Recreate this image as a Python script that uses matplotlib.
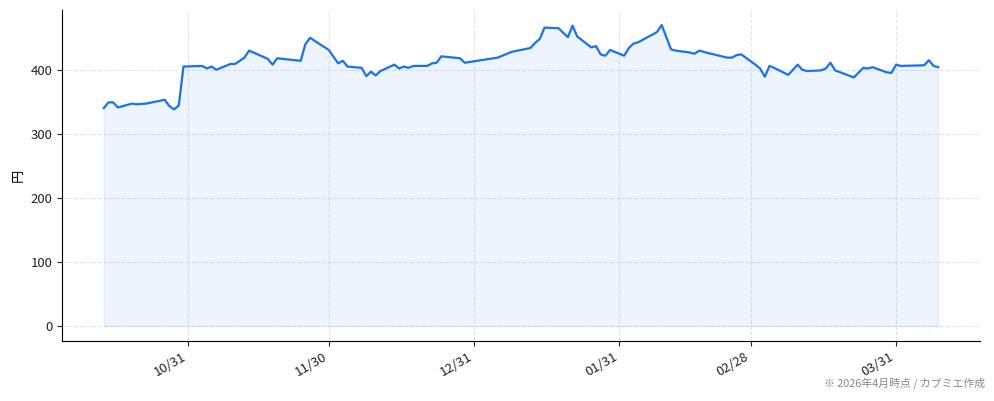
import matplotlib
matplotlib.use('Agg')
import matplotlib.pyplot as plt
import matplotlib.dates as mdates
import pandas as pd

plt.rcParams['font.family'] = ['Noto Sans CJK JP', 'DejaVu Sans']

# price history (円)
dates = [
    '2025-10-13', '2025-10-14', '2025-10-15', '2025-10-16', '2025-10-19',
    '2025-10-20', '2025-10-22', '2025-10-26', '2025-10-27', '2025-10-28',
    '2025-10-29', '2025-10-30', '2025-11-03', '2025-11-04', '2025-11-05',
    '2025-11-06', '2025-11-09', '2025-11-10', '2025-11-12', '2025-11-13',
    '2025-11-17', '2025-11-18', '2025-11-19', '2025-11-24', '2025-11-25',
    '2025-11-26', '2025-11-30', '2025-12-02', '2025-12-03', '2025-12-04',
    '2025-12-07', '2025-12-08', '2025-12-09', '2025-12-10', '2025-12-11',
    '2025-12-14', '2025-12-15', '2025-12-16', '2025-12-17', '2025-12-18',
    '2025-12-21', '2025-12-22', '2025-12-23', '2025-12-24', '2025-12-28',
    '2025-12-29', '2026-01-05', '2026-01-08', '2026-01-12', '2026-01-13',
    '2026-01-14', '2026-01-15', '2026-01-18', '2026-01-20', '2026-01-21',
    '2026-01-22', '2026-01-25', '2026-01-26', '2026-01-27', '2026-01-28',
    '2026-01-29', '2026-02-01', '2026-02-02', '2026-02-03', '2026-02-04',
    '2026-02-08', '2026-02-09', '2026-02-11', '2026-02-12', '2026-02-15',
    '2026-02-16', '2026-02-17', '2026-02-19', '2026-02-23', '2026-02-24',
    '2026-02-25', '2026-02-26', '2026-03-01', '2026-03-02', '2026-03-03',
    '2026-03-04', '2026-03-05', '2026-03-08', '2026-03-10', '2026-03-11',
    '2026-03-12', '2026-03-15', '2026-03-16', '2026-03-17', '2026-03-18',
    '2026-03-22', '2026-03-24', '2026-03-25', '2026-03-26', '2026-03-29',
    '2026-03-30', '2026-03-31', '2026-04-01', '2026-04-06', '2026-04-07',
    '2026-04-08', '2026-04-09',
]
prices = [
    341, 350, 350, 342, 348,
    347, 348, 354, 344, 339,
    345, 406, 407, 403, 406,
    401, 410, 410, 420, 431,
    418, 409, 419, 415, 441,
    451, 432, 411, 415, 406,
    404, 391, 398, 392, 399,
    409, 403, 406, 404, 407,
    407, 411, 412, 422, 419,
    412, 420, 429, 435, 443,
    449, 467, 466, 452, 470,
    453, 436, 438, 425, 423,
    432, 423, 435, 442, 444,
    460, 471, 433, 431, 428,
    426, 431, 427, 420, 420,
    424, 425, 409, 403, 390,
    407, 404, 393, 409, 401,
    399, 400, 403, 412, 400,
    389, 404, 403, 405, 397,
    396, 409, 407, 408, 416,
    407, 405,
]
tick_dates = ['2025-10-31', '2025-11-30', '2025-12-31',
              '2026-01-31', '2026-02-28', '2026-03-31']
y_ticks = [0, 100, 200, 300, 400]

x = pd.to_datetime(dates)
line_color = '#1a73e8'

fig = plt.figure(figsize=(9.94, 4.01), dpi=100)
ax = fig.add_axes([0.0624, 0.1496, 0.9235, 0.8255])

ax.fill_between(x, prices, 0, color=line_color, alpha=0.08, linewidth=1)
ax.plot(x, prices, color=line_color, linewidth=1.6)

ax.set_xticks(pd.to_datetime(tick_dates))
ax.xaxis.set_major_formatter(mdates.DateFormatter('%m/%d'))
plt.setp(ax.get_xticklabels(), rotation=30, ha='right')
ax.set_yticks(y_ticks)
ax.tick_params(labelsize=9.5, colors='#222222')

ax.grid(True, linestyle='--', color='#dcdce3', linewidth=0.8, alpha=0.8)
ax.set_axisbelow(True)
for side in ['top', 'right']:
    ax.spines[side].set_visible(False)

ax.set_ylabel('円', fontsize=9.5)

fig.text(0.991, 0.03, '※ 2026年4月時点 / カブミエ作成',
         ha='right', va='bottom', fontsize=7.8, color='#888888')

fig.savefig('out.png', dpi=100)
